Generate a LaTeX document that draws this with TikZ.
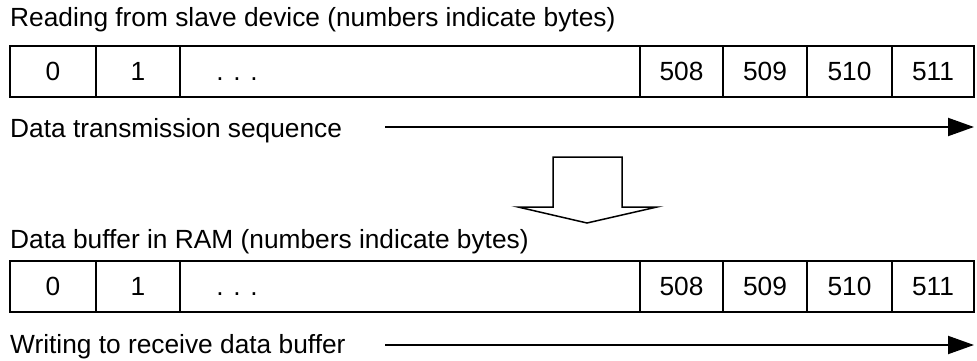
\documentclass[tikz,border=0pt]{standalone}
\usepackage{fontspec}
\setmainfont{Liberation Sans}
\usetikzlibrary{arrows.meta}

\begin{document}
\begin{tikzpicture}[x=1pt,y=-1pt,>={Triangle[length=26pt,width=18pt]},
  font=\fontsize{26.3}{31}\selectfont,
  cellule/.style={draw,line width=1.6pt,minimum height=51pt,inner sep=0pt},
  titre/.style={anchor=base west,inner sep=0pt}]
\useasboundingbox (0,0) rectangle (977,361);

\node[titre] (lecture) at (10,27) {Reading from slave device (numbers indicate bytes)};

%la ligne du haut
\node[cellule,minimum width=86pt] (h0) at (53,71.5) {0};
\node[cellule,minimum width=84pt] (h1) at (138,71.5) {1};
\node[cellule,minimum width=460pt] (hdots) at (410,71.5) {};
\node[anchor=base,inner sep=0pt] (hpts) at (237,80.5) {. . .};
\node[cellule,minimum width=83pt] (h508) at (681.5,71.5) {508};
\node[cellule,minimum width=84pt] (h509) at (765,71.5) {509};
\node[cellule,minimum width=85pt] (h510) at (849.5,71.5) {510};
\node[cellule,minimum width=82pt] (h511) at (933,71.5) {511};

\node[titre] (sequence) at (10,137) {Data transmission sequence};
\coordinate (debA) at (385,127);
\coordinate (finA) at (974,127);
\draw[->,line width=2pt] (debA) -- (finA);%sens de transmission

%la grosse fleche creuse
\draw[line width=1.5pt,line join=miter] (553,157) -- (622,157) -- (622,207) -- (657,207)
  -- (587,223) -- (518,207) -- (553,207) -- cycle;

\node[titre] (tampon) at (10,248) {Data buffer in RAM (numbers indicate bytes)};

%la ligne du bas
\node[cellule,minimum width=86pt] (b0) at (53,286.5) {0};
\node[cellule,minimum width=84pt] (b1) at (138,286.5) {1};
\node[cellule,minimum width=460pt] (bdots) at (410,286.5) {};
\node[anchor=base,inner sep=0pt] (bpts) at (237,295.5) {. . .};
\node[cellule,minimum width=83pt] (b508) at (681.5,286.5) {508};
\node[cellule,minimum width=84pt] (b509) at (765,286.5) {509};
\node[cellule,minimum width=85pt] (b510) at (849.5,286.5) {510};
\node[cellule,minimum width=82pt] (b511) at (933,286.5) {511};

\node[titre] (ecriture) at (10,353) {Writing to receive data buffer};
\coordinate (debB) at (385,345);
\coordinate (finB) at (974,345);
\draw[->,line width=2pt] (debB) -- (finB);%sens d'ecriture

\end{tikzpicture}
\end{document}
